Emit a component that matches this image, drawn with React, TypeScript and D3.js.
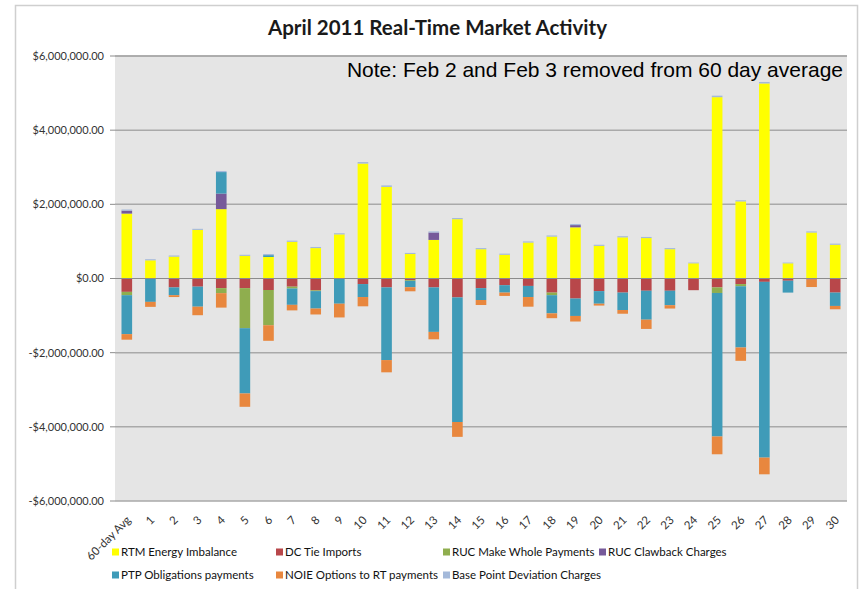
import React from "react";
import * as d3 from "d3";

const categories = ["60-day Avg", "1", "2", "3", "4", "5", "6", "7", "8", "9", "10", "11", "12", "13", "14", "15", "16", "17", "18", "19", "20", "21", "22", "23", "24", "25", "26", "27", "28", "29", "30"];

// values in millions of dollars
const rtmEnergyImbalance = [1.75, 0.49, 0.59, 1.31, 1.87, 0.61, 0.58, 0.99, 0.82, 1.19, 3.10, 2.47, 0.66, 1.04, 1.60, 0.79, 0.64, 0.97, 1.13, 1.38, 0.88, 1.11, 1.09, 0.79, 0.41, 4.89, 2.08, 5.26, 0.41, 1.24, 0.91];
const dcTieImports = [-0.36, -0.01, -0.24, -0.22, -0.26, -0.26, -0.31, -0.22, -0.32, 0, -0.15, -0.24, -0.045, -0.24, -0.51, -0.26, -0.18, -0.2, -0.38, -0.54, -0.34, -0.38, -0.33, -0.33, -0.315, -0.24, -0.15, -0.09, -0.06, -0.03, -0.38];
const rucMakeWhole = [-0.09, 0, 0, 0, -0.135, -1.08, -0.95, -0.05, -0.02, 0, 0, 0, -0.02, 0, 0, 0, 0, 0, -0.07, 0, 0, 0, 0, 0, 0, -0.15, -0.06, 0, 0, 0, 0];
const rucClawback = [0.08, 0, 0, 0, 0.42, 0, 0, 0, 0, 0, 0, 0, 0, 0.2, 0, 0, 0, 0, 0, 0.06, 0, 0, 0, 0, 0, 0, 0, 0, 0, 0, 0];
const ptpObligations = [-1.05, -0.62, -0.21, -0.54, 0.58, -1.76, 0.05, -0.44, -0.47, -0.68, -0.35, -1.96, -0.17, -1.2, -3.36, -0.32, -0.2, -0.3, -0.49, -0.47, -0.34, -0.47, -0.78, -0.39, 0, -3.87, -1.65, -4.74, -0.32, 0, -0.36];
const noieOptions = [-0.15, -0.135, -0.05, -0.23, -0.39, -0.36, -0.42, -0.15, -0.16, -0.37, -0.25, -0.33, -0.11, -0.2, -0.4, -0.135, -0.09, -0.26, -0.13, -0.15, -0.05, -0.1, -0.25, -0.09, 0, -0.48, -0.36, -0.45, 0, -0.2, -0.09];
const basePointDeviation = [0.03, 0.03, 0.03, 0.03, 0.03, 0.03, 0.03, 0.03, 0.03, 0.03, 0.04, 0.04, 0.03, 0.03, 0.03, 0.03, 0.03, 0.03, 0.03, 0.03, 0.03, 0.03, 0.03, 0.03, 0.02, 0.04, 0.03, 0.04, 0.02, 0.03, 0.03];

const seriesNames = ["RTM Energy Imbalance", "DC Tie Imports", "RUC Make Whole Payments", "RUC Clawback Charges", "PTP Obligations payments", "NOIE Options to RT payments", "Base Point Deviation Charges"];
const seriesColors = ["#FFFF00", "#B8474A", "#8FAE4E", "#765A9A", "#3F9BB8", "#E8873E", "#A4B9DA"];
const seriesValues = [rtmEnergyImbalance, dcTieImports, rucMakeWhole, rucClawback, ptpObligations, noieOptions, basePointDeviation];
const yTicks = [-6, -4, -2, 0, 2, 4, 6];

const title = "April 2011 Real-Time Market Activity";
const note = "Note: Feb 2 and Feb 3 removed from 60 day average";

const W = 863;
const H = 589;
const plot = { left: 115, right: 847, top: 56, bottom: 501 };

const fmt = (v: number) => (v < 0 ? "-" : "") + "$" + d3.format(",.2f")(Math.abs(v * 1e6));

export default function App() {
  const x = d3.scaleBand<string>().domain(categories).range([plot.left, plot.right]).paddingInner(0.55).paddingOuter(0.275);
  const y = d3.scaleLinear().domain([-6, 6]).range([plot.bottom, plot.top]);

  const rows = categories.map((c, i) => {
    const r: any = { cat: c };
    seriesNames.forEach((n, k) => (r[n] = seriesValues[k][i]));
    return r;
  });
  const stacked = d3.stack<any>().keys(seriesNames).offset(d3.stackOffsetDiverging)(rows);

  const legendRows = [
    [0, 1, 2, 3],
    [4, 5, 6],
  ];
  const legendX = [112, 276, 443, 599];
  const legendY = [552, 575];
  const font = "Lato, 'Open Sans', sans-serif";

  return (
    <div>
      <style>{"body{margin:0}"}</style>
      <svg width={W} height={H} style={{ display: "block" }}>
        <rect x={0} y={0} width={W} height={H} fill="#fff" />
        <rect x={15.5} y={5.5} width={842} height={600} fill="#fff" stroke="#cfcfcf" strokeWidth={1.5} />
        <text x={437.5} y={35} textAnchor="middle" fontFamily={font} fontWeight="bold" fontSize={20.5} fill="#1a1a1a">
          {title}
        </text>
        <rect x={plot.left} y={plot.top} width={plot.right - plot.left} height={plot.bottom - plot.top} fill="#e5e5e5" />
        {yTicks.map((t) => (
          <g key={t}>
            {t !== 0 && (
              <line x1={plot.left} x2={plot.right} y1={y(t)} y2={y(t)} stroke="#a9a9a9" strokeWidth={1.5} />
            )}
            <line x1={plot.left - 5} x2={plot.left} y1={y(t)} y2={y(t)} stroke="#8c8c8c" strokeWidth={1} />
            <text x={104} y={y(t)} dy="0.35em" textAnchor="end" fontFamily={font} fontSize={11} fill="#333">
              {fmt(t)}
            </text>
          </g>
        ))}
        <line x1={plot.left} x2={plot.right} y1={plot.top} y2={plot.top} stroke="#a9a9a9" strokeWidth={1.5} />
        <text x={843} y={77} textAnchor="end" fontFamily="'Liberation Sans', Arial, sans-serif" fontSize={21} fill="#000">
          {note}
        </text>
        {stacked.map((s, k) => (
          <g key={seriesNames[k]} fill={seriesColors[k]}>
            {s.map((d, i) => {
              const y0 = y(d[0]);
              const y1 = y(d[1]);
              const h = Math.abs(y0 - y1);
              if (h <= 0) return null;
              return <rect key={i} x={x(categories[i])} width={x.bandwidth()} y={Math.min(y0, y1)} height={h} />;
            })}
          </g>
        ))}
        <line x1={plot.left} x2={plot.right} y1={y(0)} y2={y(0)} stroke="#8c8c8c" strokeWidth={1} />
        {categories.map((c) => {
          const cx = (x(c) as number) + x.bandwidth() / 2;
          return (
            <text key={c} transform={`translate(${cx - 1},515) rotate(-45)`} textAnchor="end" dy="0.71em" fontFamily={font} fontSize={11.5} fill="#333">
              {c}
            </text>
          );
        })}
        {legendRows.map((row, r) =>
          row.map((k, j) => (
            <g key={k}>
              <rect x={legendX[j]} y={legendY[r] - 3.5} width={7} height={7} fill={seriesColors[k]} />
              <text x={legendX[j] + 9} y={legendY[r]} dy="0.35em" fontFamily={font} fontSize={11.5} fill="#111">
                {seriesNames[k]}
              </text>
            </g>
          ))
        )}
      </svg>
    </div>
  );
}
